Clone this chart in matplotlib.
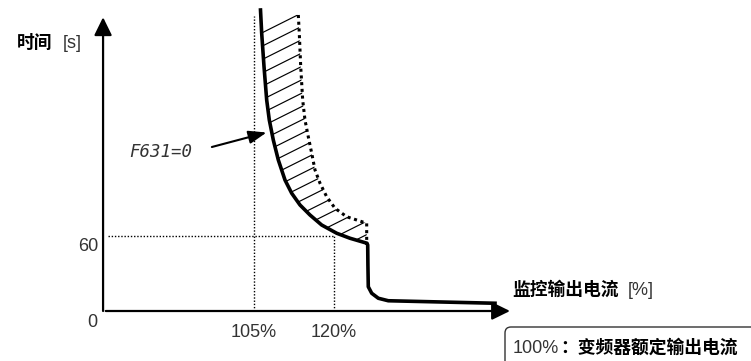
import matplotlib.pyplot as plt
from matplotlib.patches import Polygon, FancyBboxPatch
from matplotlib.collections import LineCollection

# current axis [%] and time axis [s]
pct_ticks = [105, 120]
pct_labels = ["105%", "120%"]
time_ticks = [60]

# F631=0 overload curve (solid)
trip_pct = [106.22, 106.44, 106.88, 107.38, 107.87, 108.62, 109.56, 110.81, 112.07,
            113.63, 115.5, 117.69, 120.51, 123.0, 126.19,
            126.32, 126.36, 126.43, 127.07, 128.31, 130.18, 150.19]
trip_s = [240.8, 222.4, 195.4, 168.8, 152.8, 136.8, 120.8, 104.8, 94.2,
          84.8, 76.8, 68.8, 62.2, 58.2, 54.2,
          52.8, 36.8, 19.4, 14.2, 10.2, 8.2, 6.2]
n_curve = 15  # points before the drop

# upper (dotted) curve
upper_pct = [113.31, 113.49, 113.76, 114.13, 114.56, 115.18, 115.82, 116.44, 117.38,
             118.63, 120.19, 122.38, 124.26, 126.13, 126.13]
upper_s = [236.8, 222.4, 195.4, 168.8, 152.8, 139.4, 126.2, 112.8, 102.2,
           91.4, 82.2, 75.4, 72.8, 70.2, 54.2]

W, H = 751, 361
NUM = "Liberation Sans"
CJK = "Noto Sans CJK SC"
GREY = "#333333"
FS = 13

fig = plt.figure(figsize=(W / 100, H / 100), dpi=100)
ax = fig.add_axes([0, 0, 1, 1])
ax.set_xlim(57.375, 198.19)
ax.set_ylim(-40, 248.8)
ax.axis("off")


def px(x, y):
    return x / W, 1 - y / H


x0 = 76.7  # where the time axis sits

# dotted guide lines
guide = dict(color="k", lw=1.0, ls=(0, (1, 1.3)))
ax.plot([pct_ticks[0]] * 2, [0, 236], **guide)
ax.plot([77.6, pct_ticks[1]], [time_ticks[0]] * 2, **guide)
ax.plot([pct_ticks[1]] * 2, [0, time_ticks[0]], **guide)

# axes with arrow heads
head = dict(arrowstyle="-|>,head_length=0.55,head_width=0.27", mutation_scale=20,
            lw=1.6, color="k", shrinkA=0, shrinkB=0)
ax.annotate("", xy=(x0, 235), xytext=(x0, 0), arrowprops=head)
ax.annotate("", xy=(153, 0), xytext=(77.2, 0), arrowprops=head)

# hatched band between the two curves
band = Polygon(list(zip(trip_pct[:n_curve], trip_s[:n_curve])) +
               list(zip(upper_pct[::-1], upper_s[::-1])),
               closed=True, fc="none", ec="none", transform=ax.transData)
ax.add_patch(band)
slope = 2.133
segs = []
for k in range(24):
    c = 222.4 - 10.7 * k
    segs.append([(100, c + slope * (100 - 106.44)), (135, c + slope * (135 - 106.44))])
hatch = LineCollection(segs, colors="k", linewidths=0.85)
ax.add_collection(hatch)
hatch.set_clip_path(band)

ax.plot(upper_pct, upper_s, color="k", lw=2.2, ls=(0, (1, 1.2)), dash_capstyle="butt")
ax.plot(trip_pct, trip_s, color="k", lw=2.6, solid_joinstyle="round")

# F631=0 pointer
ax.annotate("", xy=(107.35, 142.8), xytext=(97.1, 131.2),
            arrowprops=dict(arrowstyle="-|>,head_length=0.6,head_width=0.22",
                            mutation_scale=18, lw=1.5, color="k",
                            shrinkA=0, shrinkB=0))
fig.text(*px(161, 152), "F631=0", family="DejaVu Sans Mono", style="italic",
         fontsize=12.5, color=GREY, ha="center", va="center")

# tick labels
for p, lab in zip(pct_ticks, pct_labels):
    ax.annotate(lab, xy=(p, 0), xytext=(0, -26), textcoords="offset pixels",
                ha="center", va="baseline", family=NUM, fontsize=FS, color=GREY)
ax.annotate("60", xy=(x0, time_ticks[0]), xytext=(-5, -15), textcoords="offset pixels",
            ha="right", va="baseline", family=NUM, fontsize=FS, color=GREY)
ax.annotate("0", xy=(x0, 0), xytext=(-6, -16), textcoords="offset pixels",
            ha="right", va="baseline", family=NUM, fontsize=FS, color=GREY)

# axis titles
fig.text(*px(17, 48), "时间", family=CJK, weight="bold", fontsize=12.8, va="baseline")
fig.text(*px(63, 48), "[s]", family=NUM, fontsize=FS, color=GREY, va="baseline")
fig.text(*px(512, 295), "监控输出电流", family=CJK, weight="bold", fontsize=12.8,
         va="baseline")
fig.text(*px(628, 295), "[%]", family=NUM, fontsize=FS, color=GREY, va="baseline")

# note box
box = FancyBboxPatch((5.05, -0.3), 3.0, 0.64, boxstyle="round,pad=0,rounding_size=0.06",
                     transform=fig.dpi_scale_trans, fc="white", ec=GREY, lw=1)
fig.add_artist(box)
fig.text(*px(513, 353), "100%", family=NUM, fontsize=FS, color=GREY, va="baseline")
fig.text(*px(560, 353), "：变频器额定输出电流", family=CJK, weight="bold",
         fontsize=12.8, va="baseline")

fig.savefig("out.png", dpi=100)
